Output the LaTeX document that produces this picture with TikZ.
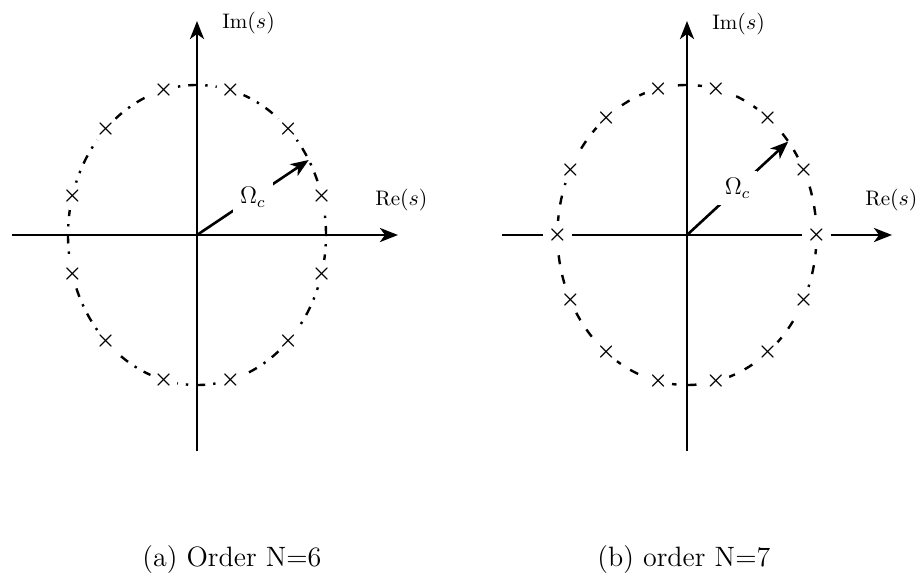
\documentclass[tikz,border=0pt]{standalone}
\usetikzlibrary{arrows.meta,positioning,calc}

\begin{document}
\begin{tikzpicture}[
  x=0.5pt, y=-0.5pt,
  axis/.style={line width=1.4pt},
  radius line/.style={line width=1.3pt},
  circa/.style={line width=1.2pt, dash pattern=on 4.5pt off 4pt on 1.2pt off 4pt},
  circb/.style={line width=1.2pt, dash pattern=on 4.5pt off 5.5pt},
  pole/.style={circle, fill=white, inner sep=0pt, minimum size=14pt, font=\fontsize{11}{13}\selectfont\boldmath},
  lab/.style={inner sep=0pt, anchor=base west, font=\fontsize{10.5}{12}\selectfont},
  omega/.style={fill=white, inner sep=3.5pt, font=\fontsize{12}{14}\selectfont},
  caption/.style={inner sep=0pt, anchor=base west, font=\fontsize{14}{17}\selectfont},
  >={Stealth[length=9pt,width=7pt,inset=2.5pt]}
]
\useasboundingbox (0,0) rectangle (921,578);

  % (a) N=6
  \coordinate (Oa) at (197,235);
  \coordinate (La) at (12,235);
  \coordinate (Ra) at (398,235);
  \coordinate (Ta) at (197,21);
  \coordinate (Ba) at (197,451);
  \coordinate (tipa) at ($(Oa)+(30:64.5pt and 75pt)$);

  \draw[circa] (Oa) ellipse [x radius=64.5pt, y radius=75pt];
  \foreach \k in {0,...,11}
    \node[pole] (pa\k) at ($(Oa)+({15+30*\k}:64.5pt and 75pt)$) {$\times$};

  \draw[axis, ->] (La) -- (Ra);
  \draw[axis, ->] (Ba) -- (Ta);
  \draw[radius line, ->] (Oa) -- node[omega] (wa) {$\Omega_c$} (tipa);

  \node[lab] (ima) at (222,28) {Im$(s)$};
  \node[lab] (rea) at (375,205) {Re$(s)$};

  % (b) N=7
  \coordinate (Ob) at (687,235);
  \coordinate (Lb) at (502,235);
  \coordinate (Rb) at (892,235);
  \coordinate (Tb) at (687,21);
  \coordinate (Bb) at (687,451);
  \coordinate (tipb) at ($(Ob)+(38.57:64.75pt and 75pt)$);

  \draw[circb] (Ob) ellipse [x radius=64.75pt, y radius=75pt];
  \foreach \k in {0,...,13}
    \node[pole] (pb\k) at ($(Ob)+({360/14*\k}:64.75pt and 75pt)$) {$\times$};

  \draw[axis] (Lb) -- (pb7);
  \draw[axis] (pb7) -- (pb0);
  \draw[axis, ->] (pb0) -- (Rb);
  \draw[axis, ->] (Bb) -- (Tb);
  \draw[radius line, ->] (Ob) -- node[omega] (wb) {$\Omega_c$} (tipb);

  \node[lab] (imb) at (712,29) {Im$(s)$};
  \node[lab] (reb) at (865,205) {Re$(s)$};

  % captions
  \node[caption] (capa) at (142,566) {(a) Order N=6};
  \node[caption] (capb) at (597,566) {(b) order N=7};

\end{tikzpicture}
\end{document}
